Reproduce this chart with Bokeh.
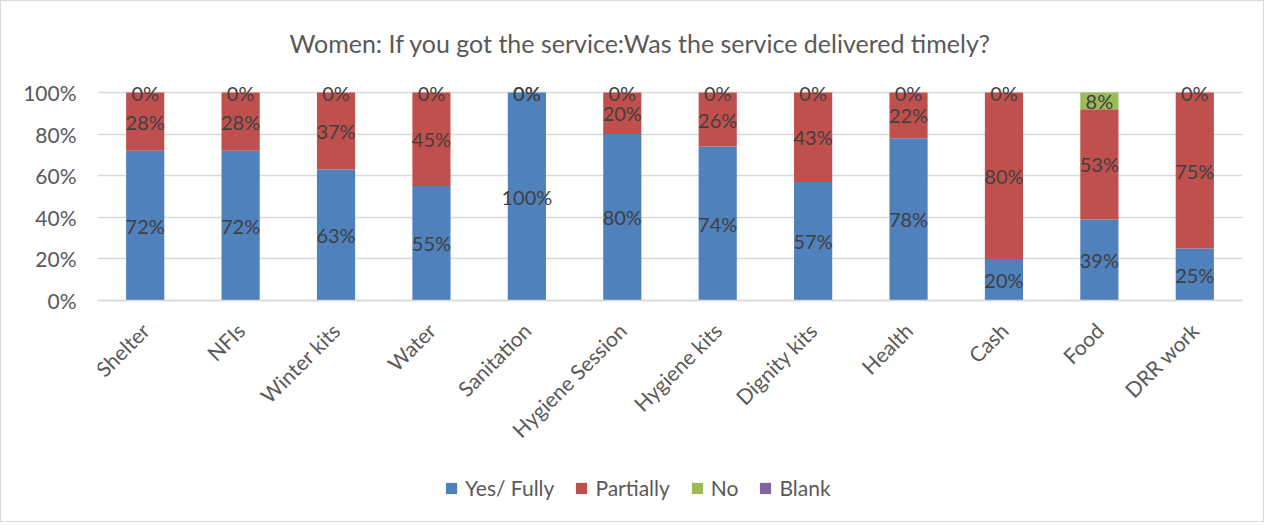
import numpy as np
from bokeh.plotting import figure
from bokeh.models import ColumnDataSource, LabelSet, NumeralTickFormatter, Legend, LegendItem, FixedTicker
from bokeh.core.properties import value
from bokeh.embed import file_html
from bokeh.resources import INLINE

categories = ["Shelter", "NFIs", "Winter kits", "Water", "Sanitation", "Hygiene Session",
              "Hygiene kits", "Dignity kits", "Health", "Cash", "Food", "DRR work"]
yes_fully = [72, 72, 63, 55, 100, 80, 74, 57, 78, 20, 39, 25]
partially = [28, 28, 37, 45, 0, 20, 26, 43, 22, 80, 53, 75]
no = [0, 0, 0, 0, 0, 0, 0, 0, 0, 0, 8, 0]
blank = [0, 0, 0, 0, 0, 0, 0, 0, 0, 0, 0, 0]

series_names = ["Yes/ Fully", "Partially", "No", "Blank"]
colors = ["#4F81BD", "#C0504D", "#9BBB59", "#8064A2"]
FONT = "Lato"

data = dict(cat=categories,
            yes=np.array(yes_fully) / 100.0,
            part=np.array(partially) / 100.0,
            no=np.array(no) / 100.0,
            blank=np.array(blank) / 100.0)
src = ColumnDataSource(data)

# frame spans from above the 100% line down to the legend row; the x axis is pinned at 0
PX = 208.0
p = figure(x_range=categories, y_range=(-221 / PX, 1 + 31 / PX), frame_width=1145, frame_height=460,
           output_backend="svg", toolbar_location=None,
           min_border_left=96, min_border_right=21, min_border_top=60, min_border_bottom=0,
           title="Women: If you got the service:Was the service delivered timely?")
p.title.align = "left"
p.title.vertical_align = "middle"
p.title.offset = 192
p.title.text_font = FONT
p.title.text_font_size = "25px"
p.title.text_font_style = "normal"
p.title.text_color = "#595959"
p.title.standoff = 5

r = p.vbar_stack(["yes", "part", "no", "blank"], x="cat", width=0.4, source=src,
                 color=colors, line_color=None)

# labels
ys = np.array(yes_fully) / 100.0
ps = np.array(partially) / 100.0
ns = np.array(no) / 100.0
lab_y = list(ys / 2) + list(ys + ps / 2) + list(ys + ps + ns / 2)
lab_x = categories * 3
lab_t = [f"{v}%" for v in yes_fully] + [f"{v}%" for v in partially] + [f"{v}%" for v in no]
lsrc = ColumnDataSource(dict(x=lab_x, y=lab_y, t=lab_t))
labels = LabelSet(x="x", y="y", text="t", source=lsrc, text_align="center", text_baseline="middle",
                  text_font=value(FONT), text_font_size=value("20px"), text_color="#404040")
p.add_layout(labels)

p.yaxis.ticker = FixedTicker(ticks=[0, 0.2, 0.4, 0.6, 0.8, 1.0])
p.yaxis.formatter = NumeralTickFormatter(format="0%")
p.yaxis.axis_line_color = None
p.yaxis.major_tick_line_color = None
p.yaxis.minor_tick_line_color = None
p.yaxis.major_label_text_font = FONT
p.yaxis.major_label_text_font_size = "21px"
p.yaxis.major_label_text_color = "#595959"
p.yaxis.major_label_standoff = 15

p.xaxis.fixed_location = 0
p.xaxis.axis_line_color = "#D9D9D9"
p.xaxis.axis_line_width = 1.5
p.xaxis.major_tick_line_color = None
p.xaxis.minor_tick_line_color = None
p.xaxis.major_label_orientation = np.pi / 4
p.xaxis.major_label_text_font = FONT
p.xaxis.major_label_text_font_size = "21px"
p.xaxis.major_label_text_color = "#595959"
p.xaxis.major_label_standoff = 20

p.xgrid.grid_line_color = None
p.ygrid.grid_line_color = "#D9D9D9"
p.ygrid.grid_line_width = 1.5
p.outline_line_color = None
p.x_range.range_padding = 0

legend = Legend(items=[LegendItem(label=n, renderers=[rr]) for n, rr in zip(series_names, r)],
                orientation="horizontal", location=(347, 21))
legend.label_text_font = FONT
legend.label_text_font_size = "21px"
legend.label_text_color = "#595959"
legend.glyph_width = 14
legend.glyph_height = 14
legend.label_standoff = 7
legend.spacing = 20
legend.padding = 0
legend.margin = 0
legend.border_line_color = None
legend.background_fill_alpha = 0
p.add_layout(legend, "center")

p.styles = {"border": "1px solid #D9D9D9"}

open("out.html", "w").write(file_html(p, INLINE))
